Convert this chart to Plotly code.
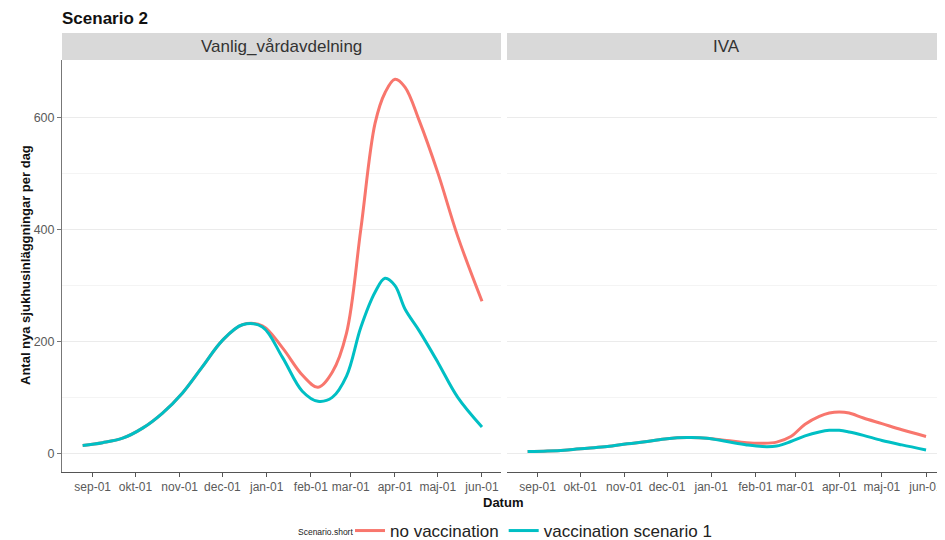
import plotly.graph_objects as go

# ---- data ----
dates = ["2020-08-25", "2020-09-08", "2020-09-22", "2020-10-06", "2020-10-20",
         "2020-11-03", "2020-11-17", "2020-12-01", "2020-12-15", "2020-12-29",
         "2021-01-12", "2021-01-26", "2021-02-06", "2021-02-16", "2021-02-26",
         "2021-03-08", "2021-03-18", "2021-03-25", "2021-04-01", "2021-04-08",
         "2021-04-18", "2021-05-01", "2021-05-15", "2021-06-01"]

ward_no_vacc = [14, 19, 27, 45, 72, 108, 155, 202, 230, 228, 189, 140, 118, 145,
                215, 400, 590, 645, 669, 655, 595, 502, 388, 272]
ward_vacc = [14, 19, 27, 45, 72, 108, 155, 202, 230, 226, 172, 111, 93, 100,
             138, 225, 288, 313, 300, 258, 219, 163, 100, 47]

iva_no_vacc = [3, 4, 6, 9, 12, 17, 21, 26, 28, 27, 23, 19, 18, 20, 30, 52, 66,
               72, 74, 72, 63, 53, 42, 30]
iva_vacc = [3, 4, 6, 9, 12, 17, 21, 26, 28, 27, 21, 15, 12, 13, 21, 31, 38, 41,
            41, 38, 32, 23, 15, 6]

panels = ["Vanlig_vårdavdelning", "IVA"]
series_names = ["no vaccination", "vaccination scenario 1"]
series_colors = ["#F8766D", "#00BFC4"]

tick_dates = ["2020-09-01", "2020-10-01", "2020-11-01", "2020-12-01", "2021-01-01",
              "2021-02-01", "2021-03-01", "2021-04-01", "2021-05-01", "2021-06-01"]
tick_labels = ["sep-01", "okt-01", "nov-01", "dec-01", "jan-01", "feb-01",
               "mar-01", "apr-01", "maj-01", "jun-01"]
y_ticks = [0, 200, 400, 600]
y_minor = [100, 300, 500]

# ---- figure geometry (page has an 8px body margin, so compensate) ----
OFF = 8
W, H = 945 - OFF, 540 - OFF


def fx(px):  # page pixel -> figure pixel
    return px - OFF


plot_l, plot_r, plot_t, plot_b = fx(62), fx(945), fx(60), fx(472)
ml, mr, mt, mb = plot_l, W - plot_r, plot_t, H - plot_b
pw = W - ml - mr
ph = H - mt - mb
d1 = (fx(501) - plot_l) / pw
d2 = (fx(507) - plot_l) / pw


def px_x(page_x):
    return (fx(page_x) - plot_l) / pw


def px_y(page_y):
    return (plot_b - fx(page_y)) / ph


font_family = "Liberation Sans, Arial, Helvetica, sans-serif"

fig = go.Figure()
panel_data = [(ward_no_vacc, ward_vacc), (iva_no_vacc, iva_vacc)]
for pi, (a, b) in enumerate(panel_data):
    xa = "x" if pi == 0 else "x2"
    ya = "y" if pi == 0 else "y2"
    for si, vals in enumerate((a, b)):
        fig.add_trace(go.Scatter(
            x=dates, y=vals, mode="lines",
            line=dict(color=series_colors[si], width=3, shape="spline", smoothing=1.0),
            name=series_names[si], legendgroup=series_names[si],
            showlegend=(pi == 0), xaxis=xa, yaxis=ya,
        ))

xr = ["2020-08-10 12:00", "2021-06-14 08:00"]
yr = [-33.5, 703.5]

common_x = dict(
    range=xr, type="date", tickmode="array", tickvals=tick_dates, ticktext=tick_labels,
    showgrid=False, zeroline=False, showline=True, linecolor="#555555", linewidth=1,
    ticks="outside", ticklen=4, tickcolor="#555555", automargin=False,
    tickfont=dict(size=12, color="#5a5a5a", family=font_family),
)
common_y = dict(
    range=yr, tickmode="array", tickvals=y_ticks, showgrid=True, gridcolor="#EBEBEB",
    gridwidth=1, zeroline=False, automargin=False,
    minor=dict(tickvals=y_minor, showgrid=True, gridcolor="#F4F4F4", gridwidth=1, ticklen=0),
)

fig.update_layout(
    width=W, height=H,
    margin=dict(l=ml, r=mr, t=mt, b=mb, autoexpand=False),
    paper_bgcolor="white", plot_bgcolor="white",
    font=dict(family=font_family),
    xaxis=dict(domain=[0, d1], anchor="y", **common_x),
    xaxis2=dict(domain=[d2, 1], anchor="y2", **common_x),
    yaxis=dict(anchor="x", showline=True, linecolor="#777777", linewidth=1,
               ticks="outside", ticklen=4, tickcolor="#777777",
               tickfont=dict(size=12.5, color="#5a5a5a", family=font_family), **common_y),
    yaxis2=dict(anchor="x2", matches="y", showticklabels=False, showline=False,
                ticks="", **common_y),
    title=dict(text="<b>Scenario 2</b>", x=fx(62) / W, xanchor="left",
               y=1 - fx(18) / H, yanchor="middle",
               font=dict(size=17, color="#111111", family=font_family)),
    legend=dict(orientation="h", xref="container", yref="container",
                x=fx(350) / W, xanchor="left", y=1 - fx(531) / H, yanchor="middle",
                font=dict(size=17, color="#222222", family=font_family),
                itemwidth=30, tracegroupgap=0, bgcolor="rgba(0,0,0,0)"),
)

# legend title as text
fig.add_annotation(text="Scenario.short", xref="paper", yref="paper",
                   x=px_x(355), y=px_y(532), showarrow=False,
                   xanchor="right", yanchor="middle",
                   font=dict(size=8.5, color="#222222", family=font_family))

# strips
strip_h = 27 / ph
for (x0, x1), label in zip([(0, d1), (d2, 1)], panels):
    fig.add_shape(type="rect", xref="paper", yref="paper", x0=x0, x1=x1,
                  y0=1.0, y1=1.0 + strip_h, fillcolor="#D9D9D9", line=dict(width=0),
                  layer="below")
    fig.add_annotation(text=label, xref="paper", yref="paper", x=(x0 + x1) / 2,
                       y=1.0 + strip_h / 2, showarrow=False, xanchor="center",
                       yanchor="middle", font=dict(size=17, color="#333333",
                                                   family=font_family))

# axis titles
fig.add_annotation(text="<b>Antal nya sjukhusinläggningar per dag</b>", xref="paper",
                   yref="paper", x=px_x(25), y=px_y(265), textangle=-90, showarrow=False,
                   xanchor="center", yanchor="middle",
                   font=dict(size=13, color="#111111", family=font_family))
fig.add_annotation(text="<b>Datum</b>", xref="paper", yref="paper", x=px_x(503),
                   y=px_y(502), showarrow=False, xanchor="center",
                   yanchor="middle", font=dict(size=13, color="#111111",
                                               family=font_family))

fig.write_html("out.html")
